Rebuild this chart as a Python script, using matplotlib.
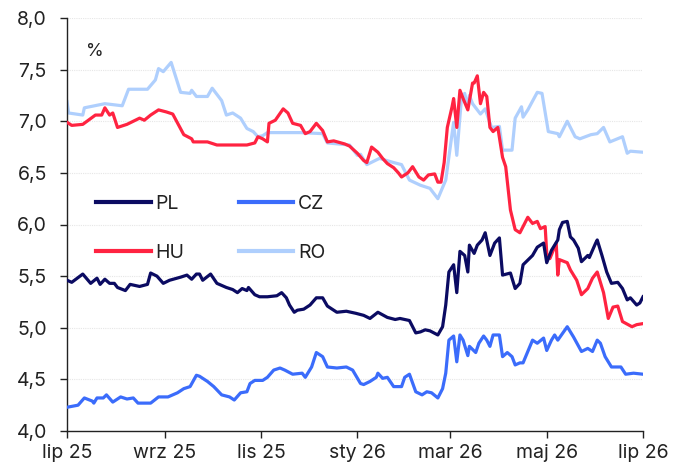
import matplotlib
matplotlib.use("Agg")
import matplotlib.pyplot as plt
import pandas as pd
import numpy as np

plt.rcParams['font.family'] = ['Inter', 'DejaVu Sans']

START = pd.Timestamp('2025-07-01')

# days since 2025-07-01, values in %
ro_days = [0, 1, 10, 11, 24, 35, 39, 51, 56, 58, 61, 66, 72, 78, 79, 82, 89, 92, 98, 101, 105, 110, 114, 118, 121, 124,
           127, 148, 162, 165, 179, 184, 186, 190, 198, 207, 212, 217, 224, 230, 235, 240, 245, 247, 250, 252, 254, 255,
           257, 262, 265, 269, 274, 276, 282, 284, 288, 289, 292, 298, 301, 305, 311, 312, 317, 322, 325, 332, 336, 340,
           344, 352, 355, 357, 365]
ro_vals = [7.19, 7.08, 7.06, 7.13, 7.17, 7.15, 7.31, 7.31, 7.40, 7.51, 7.48, 7.57, 7.28, 7.27, 7.30, 7.24, 7.24, 7.32,
           7.20, 7.06, 7.08, 7.03, 6.93, 6.90, 6.85, 6.86, 6.89, 6.89, 6.88, 6.79, 6.77, 6.67, 6.68, 6.58, 6.64, 6.60,
           6.58, 6.43, 6.38, 6.35, 6.25, 6.43, 6.99, 6.67, 7.23, 7.27, 7.14, 7.25, 7.17, 7.07, 7.12, 6.94, 6.95, 6.72,
           6.72, 7.03, 7.14, 7.04, 7.11, 7.28, 7.27, 6.90, 6.88, 6.85, 7.00, 6.85, 6.83, 6.87, 6.88, 6.94, 6.80, 6.85,
           6.69, 6.71, 6.70]

hu_days = [0, 3, 10, 18, 22, 24, 27, 29, 32, 38, 46, 49, 53, 58, 63, 67, 74, 79, 80, 89, 95, 105, 114, 119, 121, 124,
           127, 128, 132, 137, 140, 143, 148, 151, 154, 158, 162, 165, 169, 176, 179, 184, 188, 190, 193, 197, 200, 203,
           207, 210, 212, 216, 219, 223, 226, 229, 233, 235, 237, 239, 241, 244, 245, 247, 249, 251, 254, 257, 258, 260,
           262, 264, 266, 268, 270, 273, 276, 278, 281, 284, 287, 292, 295, 298, 300, 303, 304, 306, 310, 311, 312, 317,
           319, 323, 326, 330, 333, 336, 340, 343, 346, 349, 352, 358, 361, 365]
hu_vals = [6.99, 6.96, 6.97, 7.06, 7.06, 7.13, 7.06, 7.08, 6.94, 6.97, 7.03, 7.01, 7.06, 7.11, 7.09, 7.07, 6.87, 6.83,
           6.80, 6.80, 6.77, 6.77, 6.77, 6.79, 6.85, 6.83, 6.80, 6.98, 7.01, 7.12, 7.08, 6.98, 6.96, 6.88, 6.90, 6.98,
           6.91, 6.80, 6.81, 6.78, 6.76, 6.69, 6.62, 6.60, 6.75, 6.70, 6.64, 6.59, 6.55, 6.50, 6.46, 6.50, 6.56, 6.46,
           6.43, 6.48, 6.49, 6.41, 6.41, 6.60, 6.94, 7.14, 7.22, 6.94, 7.30, 7.22, 7.11, 7.37, 7.37, 7.44, 7.17, 7.28,
           7.24, 6.94, 6.90, 6.94, 6.65, 6.56, 6.14, 5.95, 5.92, 6.07, 6.01, 6.03, 5.96, 5.98, 5.72, 5.67, 5.82, 5.51,
           5.66, 5.63, 5.56, 5.46, 5.32, 5.38, 5.48, 5.54, 5.34, 5.09, 5.20, 5.21, 5.06, 5.01, 5.03, 5.04]

pl_days = [0, 3, 10, 15, 19, 21, 24, 27, 30, 32, 37, 40, 46, 51, 53, 57, 61, 65, 72, 76, 79, 82, 84, 86, 91, 95, 101,
           105, 108, 111, 114, 115, 119, 122, 127, 133, 136, 139, 141, 144, 146, 150, 154, 158, 162, 165, 171, 177, 183,
           188, 192, 197, 203, 208, 211, 217, 221, 224, 227, 230, 235, 238, 240, 242, 245, 247, 249, 252, 254, 255, 258,
           260, 263, 265, 268, 271, 274, 276, 281, 284, 287, 289, 295, 298, 302, 304, 307, 311, 312, 314, 317, 319, 321,
           324, 326, 330, 331, 335, 336, 339, 342, 345, 349, 352, 355, 357, 361, 363, 365]
pl_vals = [5.46, 5.44, 5.52, 5.43, 5.48, 5.42, 5.47, 5.43, 5.43, 5.39, 5.36, 5.42, 5.40, 5.42, 5.53, 5.50, 5.43, 5.46,
           5.49, 5.51, 5.47, 5.52, 5.52, 5.46, 5.52, 5.43, 5.39, 5.37, 5.34, 5.38, 5.36, 5.39, 5.32, 5.30, 5.30, 5.31,
           5.34, 5.29, 5.22, 5.15, 5.17, 5.18, 5.22, 5.29, 5.29, 5.21, 5.15, 5.16, 5.14, 5.12, 5.09, 5.15, 5.10, 5.08,
           5.09, 5.07, 4.95, 4.96, 4.98, 4.97, 4.93, 5.01, 5.22, 5.54, 5.61, 5.34, 5.74, 5.70, 5.54, 5.80, 5.72, 5.80,
           5.85, 5.92, 5.70, 5.82, 5.87, 5.51, 5.53, 5.38, 5.43, 5.61, 5.70, 5.78, 5.82, 5.63, 5.75, 5.85, 5.95, 6.02,
           6.03, 5.88, 5.85, 5.77, 5.64, 5.70, 5.68, 5.82, 5.85, 5.70, 5.54, 5.43, 5.44, 5.38, 5.27, 5.29, 5.22, 5.24,
           5.30]

cz_days = [0, 7, 11, 16, 17, 19, 23, 25, 29, 34, 38, 42, 45, 53, 58, 64, 70, 74, 78, 82, 84, 89, 93, 98, 103, 106, 110,
           114, 116, 119, 124, 127, 131, 135, 138, 143, 149, 151, 155, 158, 162, 165, 171, 177, 181, 186, 188, 192, 196,
           197, 200, 203, 207, 212, 214, 217, 221, 225, 228, 231, 235, 238, 240, 242, 245, 247, 249, 251, 254, 255, 259,
           261, 264, 266, 268, 270, 274, 276, 279, 282, 284, 287, 289, 292, 295, 298, 302, 304, 307, 309, 311, 317, 321,
           326, 330, 333, 336, 338, 341, 345, 351, 354, 359, 365]
cz_vals = [4.23, 4.25, 4.32, 4.29, 4.27, 4.32, 4.32, 4.35, 4.28, 4.33, 4.31, 4.32, 4.27, 4.27, 4.33, 4.33, 4.37, 4.41,
           4.43, 4.54, 4.53, 4.48, 4.43, 4.35, 4.33, 4.30, 4.37, 4.38, 4.46, 4.49, 4.49, 4.52, 4.59, 4.61, 4.59, 4.55,
           4.56, 4.52, 4.62, 4.76, 4.72, 4.62, 4.61, 4.62, 4.59, 4.46, 4.45, 4.48, 4.52, 4.56, 4.51, 4.52, 4.43, 4.43,
           4.52, 4.55, 4.38, 4.35, 4.38, 4.37, 4.32, 4.41, 4.56, 4.88, 4.92, 4.67, 4.93, 4.88, 4.73, 4.82, 4.76, 4.85,
           4.92, 4.88, 4.82, 4.93, 4.93, 4.72, 4.76, 4.72, 4.64, 4.66, 4.66, 4.77, 4.88, 4.85, 4.90, 4.78, 4.88, 4.93,
           4.88, 5.01, 4.91, 4.77, 4.80, 4.77, 4.88, 4.85, 4.72, 4.62, 4.62, 4.55, 4.56, 4.55]

series = [
    ("PL", pl_days, pl_vals, "#0b0b62"),
    ("HU", hu_days, hu_vals, "#ff2341"),
    ("CZ", cz_days, cz_vals, "#3b6cfb"),
    ("RO", ro_days, ro_vals, "#afcffd"),
]
draw_order = ["RO", "HU", "CZ", "PL"]

tick_dates = ['2025-07-01', '2025-09-01', '2025-11-01', '2026-01-01', '2026-03-01', '2026-05-01', '2026-07-01']
tick_labels = ['lip 25', 'wrz 25', 'lis 25', 'sty 26', 'mar 26', 'maj 26', 'lip 26']
y_ticks = [4.0, 4.5, 5.0, 5.5, 6.0, 6.5, 7.0, 7.5, 8.0]

FS = 14
fig = plt.figure(figsize=(6.73, 4.66), dpi=100)
ax = fig.add_axes([67 / 673, 35 / 466, (643 - 67) / 673, (431 - 18) / 466])

lines = {}
for name, days, vals, color in series:
    d = START + pd.to_timedelta(np.array(days), unit='D')
    z = 2 + draw_order.index(name)
    (ln,) = ax.plot(d, vals, color=color, lw=2.3, label=name, zorder=z, solid_joinstyle='round')
    lines[name] = ln

ax.set_xlim(pd.Timestamp(tick_dates[0]), pd.Timestamp(tick_dates[-1]))
ax.set_ylim(4.0, 8.0)
ax.set_xticks([pd.Timestamp(t) for t in tick_dates])
ax.set_xticklabels(tick_labels)
ax.set_yticks(y_ticks)
ax.set_yticklabels([f"{v:.1f}".replace('.', ',') for v in y_ticks])

for s in ['top', 'right']:
    ax.spines[s].set_visible(False)
for s in ['left', 'bottom']:
    ax.spines[s].set_color('#222222')
    ax.spines[s].set_linewidth(1.0)
ax.tick_params(axis='both', which='major', labelsize=FS, colors='#222222', length=5, width=1.0, direction='out')
ax.tick_params(axis='x', pad=4.5)
ax.tick_params(axis='y', pad=9.5)
ax.grid(axis='y', color='#e6e6e6', lw=0.8, ls=(0, (1, 1)), zorder=0)
ax.set_axisbelow(True)

ax.text(0.033, 0.918, '%', transform=ax.transAxes, fontsize=FS - 1, color='#222222', ha='left', va='center')

handles = [lines['PL'], lines['HU'], lines['CZ'], lines['RO']]
leg = ax.legend(handles=handles, labels=['PL', 'HU', 'CZ', 'RO'], ncol=2, frameon=False, fontsize=FS,
                loc='upper left', bbox_to_anchor=(0.037, 0.59), handlelength=2.8, handletextpad=0.25,
                columnspacing=2.8, labelspacing=1.6, borderaxespad=0)
for t in leg.get_texts():
    t.set_color('#222222')
for l in leg.get_lines():
    l.set_linewidth(3.0)

fig.savefig('out.png', dpi=100)
